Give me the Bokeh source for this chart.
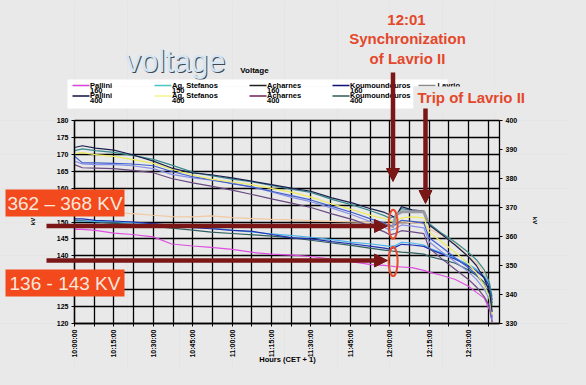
from math import pi
from bokeh.plotting import figure
from bokeh.models import (Range1d, LinearAxis, FixedTicker, Label, Arrow,
                          NormalHead, BoxAnnotation, Grid)
from bokeh.embed import file_html
from bokeh.resources import INLINE

# ---------------- data ----------------
minutes = [0, 3, 8, 15, 22, 30, 37, 45, 52, 60, 68, 75, 83, 90, 98, 106, 113,
           118, 120, 122, 124.5, 128.5, 133, 135, 140, 145, 150, 153, 156, 158, 159]
tick_minutes = [0, 15, 30, 45, 60, 75, 90, 105, 120, 135, 150]
tick_labels = ["10:00:00", "10:15:00", "10:30:00", "10:45:00", "11:00:00",
               "11:15:00", "11:30:00", "11:45:00", "12:00:00", "12:15:00", "12:30:00"]
left_ticks = [120, 125, 130, 135, 140, 145, 150, 155, 160, 165, 170, 175, 180]
right_ticks = [330, 340, 350, 360, 370, 380, 390, 400]

# 400 kV buses (right axis)
pallini_400 = [390.7, 391.3, 390.5, 389.8, 388.2, 386.0, 383.6, 381.9, 381.3, 380.2, 379.0, 377.9, 376.6, 375.6, 373.3, 371.5, 369.5, 368.3, 367.5, 366.5, 370.3, 369.2, 368.8, 364.0, 360.6, 357.0, 353.0, 350.0, 345.5, 341.0, 334.0]
koumoundouros_400 = [389.6, 390.2, 389.6, 389.0, 388.0, 386.6, 384.6, 382.2, 381.0, 379.8, 378.8, 377.6, 376.2, 375.2, 372.8, 370.8, 368.8, 367.2, 366.3, 367.0, 369.6, 369.0, 368.6, 364.5, 361.0, 358.0, 354.5, 352.0, 348.5, 344.0, 336.0]
ag_stefanos_400 = [388.6, 388.9, 388.2, 387.6, 386.6, 385.2, 383.2, 381.2, 379.8, 378.8, 377.8, 376.6, 375.2, 373.6, 371.2, 369.2, 367.2, 366.2, 365.6, 365.2, 366.4, 366.8, 366.4, 361.5, 358.0, 354.5, 350.5, 347.5, 343.0, 339.0, 333.0]
blue_400 = [387.7, 385.4, 385.4, 385.2, 385.0, 384.4, 382.4, 380.6, 379.6, 378.2, 377.0, 375.6, 374.0, 372.6, 370.4, 368.2, 366.0, 364.6, 363.6, 364.0, 365.6, 365.2, 364.6, 359.6, 356.2, 352.6, 349.2, 346.8, 343.4, 339.6, 332.0]
lavender_400 = [386.0, 385.0, 384.8, 384.8, 384.4, 383.4, 381.4, 380.2, 379.4, 378.4, 377.0, 375.4, 373.4, 372.0, 369.8, 367.4, 365.0, 363.2, 362.2, 362.6, 364.0, 363.6, 363.0, 358.2, 354.6, 351.2, 347.8, 345.2, 341.8, 338.2, 331.0]
acharnes_400 = [384.8, 383.7, 383.6, 383.4, 382.8, 382.0, 380.0, 378.5, 377.4, 376.0, 374.4, 373.0, 371.4, 370.0, 367.8, 365.8, 363.4, 361.6, 360.6, 361.0, 362.0, 361.6, 361.0, 356.0, 352.2, 348.6, 345.2, 342.6, 339.2, 336.0, 330.5]
lavrio_minutes = [121, 122.5, 124.5, 128.5, 133, 134.5]
lavrio_400 = [363.0, 367.5, 368.5, 368.5, 368.5, 365.0]

# 150 kV buses (left axis)
pallini_150 = [147.8, 147.8, 147.5, 146.7, 146.3, 145.6, 143.5, 142.9, 142.5, 141.9, 141.0, 140.5, 140.2, 139.8, 139.0, 138.2, 137.4, 137.2, 137.0, 136.8, 136.7, 136.5, 135.7, 135.2, 134.2, 133.0, 131.0, 129.2, 127.5, 124.0, 120.5]
koumoundouros_150 = [150.9, 150.9, 150.5, 150.3, 150.0, 149.5, 149.0, 148.3, 148.0, 147.5, 147.2, 146.3, 145.3, 145.0, 144.2, 143.5, 142.8, 142.3, 142.0, 142.5, 143.4, 143.2, 142.8, 142.0, 140.5, 139.0, 137.0, 135.5, 133.5, 131.0, 127.0]
ag_stefanos_150 = [150.3, 150.3, 150.2, 150.0, 149.8, 149.4, 149.0, 148.6, 148.2, 147.6, 147.0, 146.5, 146.0, 145.5, 144.8, 144.0, 143.5, 143.0, 142.8, 143.0, 144.0, 143.8, 143.2, 142.3, 140.8, 139.3, 137.4, 136.0, 134.0, 131.5, 128.0]
acharnes_150 = [150.5, 150.4, 150.0, 149.6, 149.2, 148.7, 148.2, 147.6, 147.0, 146.6, 146.2, 145.8, 145.3, 144.6, 143.8, 143.0, 142.2, 141.7, 141.5, 141.3, 141.1, 140.9, 140.5, 139.8, 138.9, 137.8, 135.8, 134.2, 132.2, 130.0, 126.0]
lavrio_150 = [153.2, 153.2, 153.0, 152.8, 152.5, 152.0, 151.6, 151.5, 151.8, 151.3, 151.0, 150.8, 150.6, 150.4, 150.2, 150.0, 149.8, 149.6, 149.5, 149.7, 150.0, 149.8, 149.5, 148.0, 146.0, 143.5, 140.0, 138.0, 135.0, 131.0, 128.0]

legend_names = [("Pallini", "160"), ("Ag. Stefanos", "150"), ("Acharnes", "160"), ("Koumoundouros", "160"),
                ("Pallini", "400"), ("Ag. Stefanos", "400"), ("Acharnes", "400"), ("Koumoundouros", "400")]
legend_colors = ["#d844d8", "#48c8c0", "#202020", "#10107a",
                 "#101040", "#f4f488", "#702050", "#305858"]

BG = "#e9e9e9"
FONT = "Liberation Sans"
DARKRED = "#7a1616"
RED = "#e4472a"

# ---------------- layout geometry (page pixels) ----------------
W, H = 570, 369
PAGE0 = 8                        # page margin
AX_L, AX_R, AX_T, AX_B = 82, 507, 128, 331   # plot area on page
T0, T1 = 0, 161.8                 # minutes shown across the plot area
L0, L1 = 120, 180                 # left axis range
R0, R1 = 330, 400                 # right axis range

kx = (AX_R - AX_L) / (T1 - T0)
kl = (AX_B - AX_T) / (L1 - L0)
kr = (AX_B - AX_T) / (R1 - R0)
x_lo = T0 - (AX_L - PAGE0) / kx
x_hi = T1 + (PAGE0 + W - AX_R) / kx
l_hi = L1 + (AX_T - PAGE0) / kl
l_lo = L0 - (PAGE0 + H - AX_B) / kl
r_hi = R1 + (AX_T - PAGE0) / kr
r_lo = R0 - (PAGE0 + H - AX_B) / kr

p = figure(width=W, height=H, output_backend="svg", toolbar_location=None,
           x_range=Range1d(x_lo, x_hi), y_range=Range1d(l_lo, l_hi),
           x_axis_location=None, y_axis_location=None, min_border=0)
p.min_border_left = p.min_border_right = p.min_border_top = p.min_border_bottom = 0
p.background_fill_color = BG
p.border_fill_color = BG
p.outline_line_color = None
p.extra_y_ranges = {"kv400": Range1d(r_lo, r_hi)}

xa = LinearAxis(ticker=FixedTicker(ticks=tick_minutes, minor_ticks=[t + 7.5 for t in tick_minutes]),
                fixed_location=L0, bounds=(T0, T1))
xa.major_label_overrides = {t: l for t, l in zip(tick_minutes, tick_labels)}
xa.major_label_orientation = pi / 2
ya = LinearAxis(ticker=FixedTicker(ticks=left_ticks), fixed_location=T0, bounds=(L0, L1))
ra = LinearAxis(y_range_name="kv400", ticker=FixedTicker(ticks=right_ticks),
                fixed_location=T1, bounds=(R0, R1))
p.add_layout(xa, "below")
p.add_layout(ya, "left")
p.add_layout(ra, "right")
for ax in (xa, ya, ra):
    ax.major_label_text_font = FONT
    ax.major_label_text_font_style = "bold"
    ax.major_label_text_font_size = "7px"
    ax.major_label_text_color = "black"
    ax.axis_line_color = "black"
    ax.axis_line_width = 1.3
    ax.major_tick_line_color = "black"
    ax.minor_tick_line_color = "black"
    ax.major_tick_in = 0
    ax.major_tick_out = 3
    ax.minor_tick_in = 0
    ax.minor_tick_out = 3
    ax.major_label_standoff = 3
ya.minor_tick_line_color = None
ra.minor_tick_line_color = None

gx = Grid(dimension=0, ticker=xa.ticker, bounds=(T0 - 0.01, T1 + 0.01), cross_bounds=(L0, L1),
          grid_line_color="black", grid_line_width=1.3,
          minor_grid_line_color="black", minor_grid_line_width=1.3)
gy = Grid(dimension=1, ticker=ya.ticker, bounds=(L0 - 0.01, L1 + 0.01), cross_bounds=(T0, T1),
          grid_line_color="black", grid_line_width=1.3)
p.add_layout(gx)
p.add_layout(gy)

# series 150 kV
lower = [(lavrio_150, "#f2c8a0"), (acharnes_150, "#2f5f5f"), (ag_stefanos_150, "#4cb4ec"),
         (koumoundouros_150, "#2030b0"), (pallini_150, "#dd4ee0")]
for vals, c in lower:
    p.line(minutes, vals, line_color=c, line_width=1.2)

# series 400 kV
upper = [(acharnes_400, "#6a4a80"), (lavender_400, "#8a90e6"), (blue_400, "#4060d0"),
         (ag_stefanos_400, "#ecec60"), (koumoundouros_400, "#3a8a8a"), (pallini_400, "#1c2050")]
for vals, c in upper:
    p.line(minutes, vals, line_color=c, line_width=1.2, y_range_name="kv400")
p.line(lavrio_minutes, lavrio_400, line_color="#9a9aa4", line_width=3, y_range_name="kv400")

# highlight ellipses
p.ellipse(x=[121.3], y=[364.2], width=9, height=29, width_units="screen", height_units="screen",
          fill_color=None, line_color="#e84a2a", line_width=2, y_range_name="kv400")
p.ellipse(x=[121.3], y=[138.3], width=9, height=29, width_units="screen", height_units="screen",
          fill_color=None, line_color="#e84a2a", line_width=2)

# ---------------- annotations (screen coords relative to frame) ----------------
def fx(X):
    return X - PAGE0

def fy(Y):
    return PAGE0 + H - Y

def label(X, Y, text, size, color="black", style="normal", align="left", angle=0, font=FONT):
    p.add_layout(Label(x=fx(X), y=fy(Y), x_units="screen", y_units="screen", text=text,
                       text_font=font, text_font_size=f"{size}px", text_font_style=style,
                       text_color=color, text_align=align, text_baseline="middle", angle=angle))

def box(X0, X1, Y0, Y1, color):
    p.add_layout(BoxAnnotation(left=fx(X0), right=fx(X1), top=fy(Y0), bottom=fy(Y1),
                               left_units="screen", right_units="screen",
                               top_units="screen", bottom_units="screen",
                               fill_color=color, fill_alpha=1, line_color=None))

def seg(X0, Y0, X1, Y1, color, width, head=None):
    p.add_layout(Arrow(x_start=fx(X0), y_start=fy(Y0), x_end=fx(X1), y_end=fy(Y1),
                       start_units="screen", end_units="screen",
                       line_color=color, line_width=width, end=head))

# big word (light face with a thin dark edge)
p.add_layout(Label(x=fx(134), y=fy(70), x_units="screen", y_units="screen", text="voltage",
                   text_font=FONT, text_font_size="31px", text_color="#3c4854",
                   text_align="left", text_baseline="alphabetic"))
p.add_layout(Label(x=fx(133), y=fy(69), x_units="screen", y_units="screen", text="voltage",
                   text_font=FONT, text_font_size="31px", text_color="#d4e6f4",
                   text_align="left", text_baseline="alphabetic"))

# chart title
label(262, 78, "Voltage", 8, style="bold", align="center")

# legend box
box(75, 455, 87, 94, "white")
box(75, 421, 94, 116, "white")
col_x = [80, 162, 257, 340]
for i, ((name, kv), c) in enumerate(zip(legend_names, legend_colors)):
    cx = col_x[i % 4]
    ry = 93 if i < 4 else 103.5
    seg(cx, ry, cx + 17, ry, c, 1.4)
    label(cx + 17.5, ry - 0.5, name, 7.5, style="bold")
    label(cx + 17.5, ry + 4.5, kv, 7.5, style="bold")
seg(426, 93, 443, 93, "#8a8a8a", 1.4)
label(445, 92.5, "Lavrio", 7.5, style="bold")
box(421, 560, 94, 119, BG)

# annotation texts
label(414, 27, "12:01", 15, color=RED, style="bold", align="center")
label(415, 46, "Synchronization", 15, color=RED, style="bold", align="center")
label(415, 66, "of Lavrio II", 15, color=RED, style="bold", align="center")
label(425, 105, "Trip of Lavrio II", 15, color=RED, style="bold")

# arrows
seg(400.5, 80, 400.5, 189, DARKRED, 4.5,
    NormalHead(size=13, fill_color=DARKRED, line_color=DARKRED))
seg(433, 116, 433, 211, DARKRED, 4.5,
    NormalHead(size=13, fill_color=DARKRED, line_color=DARKRED))
seg(54, 233.5, 395, 233.5, DARKRED, 4.5,
    NormalHead(size=13, fill_color=DARKRED, line_color=DARKRED))
seg(54, 268, 395, 268, DARKRED, 4.5,
    NormalHead(size=13, fill_color=DARKRED, line_color=DARKRED))

# red boxes
box(13, 132, 197, 224, "#f24a1c")
box(13, 132, 277, 304, "#f24a1c")
label(72.5, 211, "362 \u2013 368 KV", 19, color="#fbe6dc", align="center")
label(72.5, 291, "136 - 143 KV", 19, color="#fbe6dc", align="center")

# axis titles
label(40, 229, "kV", 6, style="bold", align="center", angle=pi / 2)
label(542, 228, "kV", 6, style="bold", align="center", angle=-pi / 2)
label(295, 367, "Hours (CET + 1)", 7.5, style="bold", align="center")

html = file_html(p, INLINE)
html = html.replace("</head>", "<style>body{background:#e9e9e9;}</style></head>", 1)
open("out.html", "w").write(html)
